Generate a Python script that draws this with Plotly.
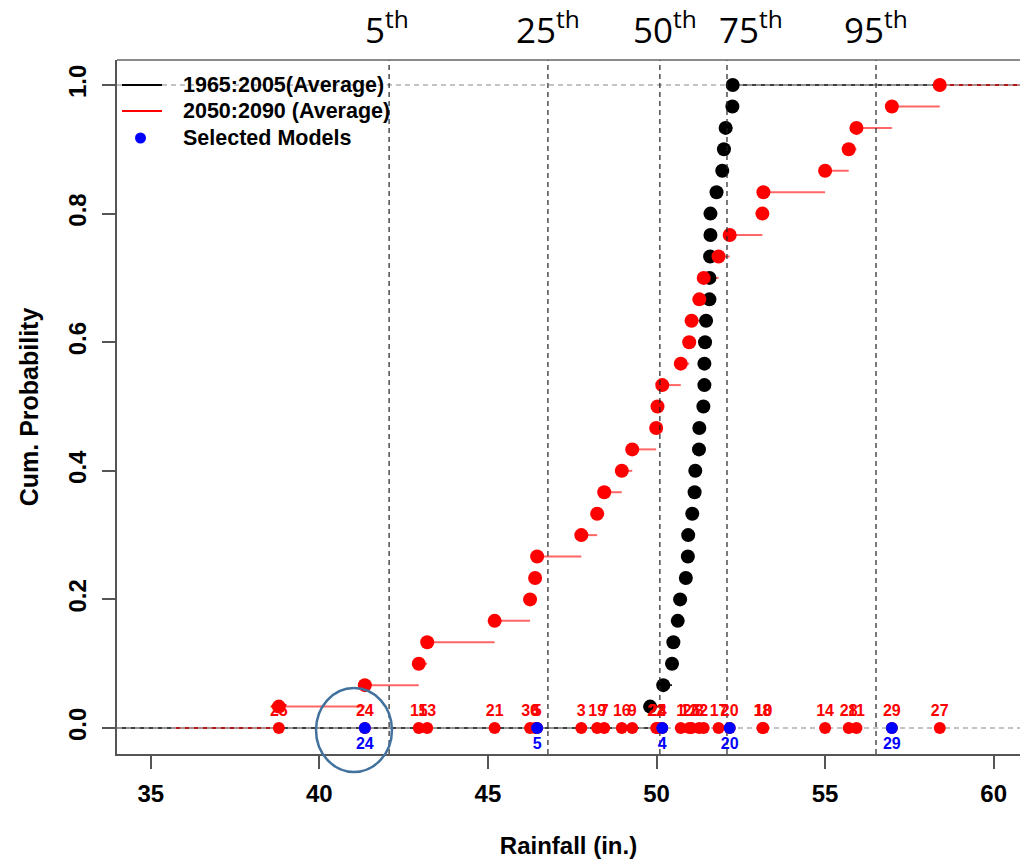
import plotly.graph_objects as go

# ---------------- data ----------------
hist_rain = [49.81, 50.20, 50.46, 50.50, 50.63, 50.70, 50.87, 50.93, 50.94, 51.06,
             51.13, 51.15, 51.26, 51.27, 51.39, 51.42, 51.42, 51.44, 51.47, 51.57,
             51.57, 51.59, 51.60, 51.60, 51.78, 51.95, 52.00, 52.05, 52.25, 52.26]
fut_rain = [38.80, 41.35, 42.95, 43.20, 45.20, 46.25, 46.40, 46.46, 47.77, 48.24,
            48.45, 48.97, 49.28, 49.99, 50.03, 50.17, 50.72, 50.97, 51.04, 51.27,
            51.40, 51.84, 52.17, 53.14, 53.17, 55.00, 55.70, 55.93, 56.98, 58.40]
fut_model = [25, 24, 15, 13, 21, 30, 6, 5, 3, 19,
             7, 16, 9, 22, 23, 4, 1, 12, 26, 8,
             2, 17, 20, 18, 10, 14, 28, 11, 29, 27]
selected_models = [24, 5, 4, 20, 29]
percentile_names = ["5", "25", "50", "75", "95"]
percentile_vals = [42.07, 46.78, 50.10, 52.09, 56.51]
percentile_label_x = [41.30, 45.76, 49.24, 51.78, 55.50]   # left edge of each label
legend_names = ["1965:2005(Average)", "2050:2090 (Average)", "Selected Models"]
x_ticks = [35, 40, 45, 50, 55, 60]
y_ticks = [0.0, 0.2, 0.4, 0.6, 0.8, 1.0]
y_ticklabels = ["0.0", "0.2", "0.4", "0.6", "0.8", "1.0"]

# ---------------- layout constants ----------------
XR = [34.0, 60.78]
YR = [-0.0404, 1.0389]
hist_left = XR[0]
fut_left = 35.7
FONT = "Liberation Sans, Arial, sans-serif"
W, H = 1020, 861
ML, MR, MT, MB = 117, 0, 60, 107
PW, PH = W - ML - MR, H - MT - MB

n = len(hist_rain)
cum_prob = [(i + 1) / n for i in range(n)]


def px2paper(px, py):
    return (px - ML) / PW, (H - MB - py) / PH


def ecdf_segments(vals, left, right):
    xs, ys = [left, vals[0], None], [0, 0, None]
    for i in range(len(vals)):
        x_end = vals[i + 1] if i + 1 < len(vals) else right
        xs += [vals[i], x_end, None]
        ys += [cum_prob[i], cum_prob[i], None]
    return xs, ys


fig = go.Figure()

hx, hy = ecdf_segments(hist_rain, hist_left, XR[1])
fx, fy = ecdf_segments(fut_rain, fut_left, XR[1])

fig.add_trace(go.Scatter(x=hx, y=hy, mode="lines", line=dict(color="black", width=1.6),
                         name=legend_names[0], hoverinfo="skip"))
fig.add_trace(go.Scatter(x=fx, y=fy, mode="lines", line=dict(color="rgba(255,0,0,0.6)", width=2),
                         name=legend_names[1], hoverinfo="skip"))

# gray dashed reference lines at 0 and 1
for yv in (0, 1):
    fig.add_trace(go.Scatter(x=XR, y=[yv, yv], mode="lines",
                             line=dict(color="#b0b0b0", width=1.3, dash="5px,4px"),
                             hoverinfo="skip"))

fig.add_trace(go.Scatter(x=hist_rain, y=cum_prob, mode="markers",
                         marker=dict(color="black", size=14)))
fig.add_trace(go.Scatter(x=fut_rain, y=cum_prob, mode="markers",
                         marker=dict(color="red", size=14)))

# percentile lines
for pv in percentile_vals:
    fig.add_trace(go.Scatter(x=[pv, pv], y=YR, mode="lines",
                             line=dict(color="#222", width=1.2, dash="5px,4px"),
                             hoverinfo="skip"))

# models on the zero line
fig.add_trace(go.Scatter(x=fut_rain, y=[0] * n, mode="markers+text",
                         marker=dict(color="red", size=12),
                         text=[str(m) for m in fut_model], textposition="top center",
                         textfont=dict(color="red", size=16, family=FONT, weight="bold")))
sel_x = [fut_rain[fut_model.index(m)] for m in selected_models]
fig.add_trace(go.Scatter(x=sel_x, y=[0] * len(sel_x), mode="markers+text",
                         marker=dict(color="blue", size=12),
                         text=[str(m) for m in selected_models], textposition="bottom center",
                         textfont=dict(color="blue", size=16, family=FONT, weight="bold"),
                         name=legend_names[2]))

# percentile labels above plot
for name, lx in zip(percentile_names, percentile_label_x):
    fig.add_annotation(x=lx, y=1.0, xref="x", yref="paper", xanchor="left", yanchor="bottom",
                       yshift=5, showarrow=False,
                       text=f"{name}<sup>th</sup>",
                       font=dict(family="Open Sans, Noto Sans, sans-serif", size=35, color="black"))

# manual legend (R style)
leg_rows = [85, 111, 138]
for i, (name, py) in enumerate(zip(legend_names, leg_rows)):
    tx, ty = px2paper(181, py)
    fig.add_annotation(x=tx, y=ty, xref="paper", yref="paper", xanchor="left", yanchor="middle",
                       showarrow=False, text=name,
                       font=dict(family=FONT, size=21.5, color="black", weight="bold"))
    if i < 2:
        x0, y0 = px2paper(122, py)
        x1, _ = px2paper(162, py)
        fig.add_shape(type="line", xref="paper", yref="paper", x0=x0, x1=x1, y0=y0, y1=y0,
                      line=dict(color=["black", "red"][i], width=2))
    else:
        cx0, cy0 = px2paper(135, py + 5.5)
        cx1, cy1 = px2paper(146, py - 5.5)
        fig.add_shape(type="circle", xref="paper", yref="paper", x0=cx0, x1=cx1, y0=cy0, y1=cy1,
                      fillcolor="blue", line=dict(color="blue", width=0))

# top border
fig.add_shape(type="line", xref="paper", yref="paper", x0=0, x1=1, y0=1, y1=1,
              line=dict(color="#666", width=1.5))
# highlight ellipse
fig.add_shape(type="circle", xref="paper", yref="paper",
              x0=0.2204, x1=0.3045, y0=-0.0259, y1=0.0951,
              line=dict(color="#41719c", width=2.5))

fig.update_layout(
    width=W, height=H,
    margin=dict(l=ML, r=MR, t=MT, b=MB),
    paper_bgcolor="white", plot_bgcolor="white",
    font=dict(family=FONT, color="black"),
    showlegend=False,
    xaxis=dict(range=XR, tickvals=x_ticks, showgrid=False, zeroline=False,
               showline=True, linecolor="#555", linewidth=1.5,
               ticks="outside", ticklen=13, tickcolor="#555", tickwidth=1.5,
               ticklabelstandoff=4,
               tickfont=dict(size=24, family=FONT, weight="bold"),
               title=dict(text="Rainfall (in.)", font=dict(size=24, family=FONT, weight="bold"),
                          standoff=32)),
    yaxis=dict(range=YR, tickvals=y_ticks, ticktext=y_ticklabels, tickangle=-90,
               showgrid=False, zeroline=False,
               showline=True, linecolor="#555", linewidth=1.5,
               ticks="outside", ticklen=13, tickcolor="#555", tickwidth=1.5,
               ticklabelstandoff=7,
               tickfont=dict(size=24, family=FONT, weight="bold"),
               title=dict(text="Cum. Probability", font=dict(size=25, family=FONT, weight="bold"),
                          standoff=18)),
)

fig.write_html("out.html")
